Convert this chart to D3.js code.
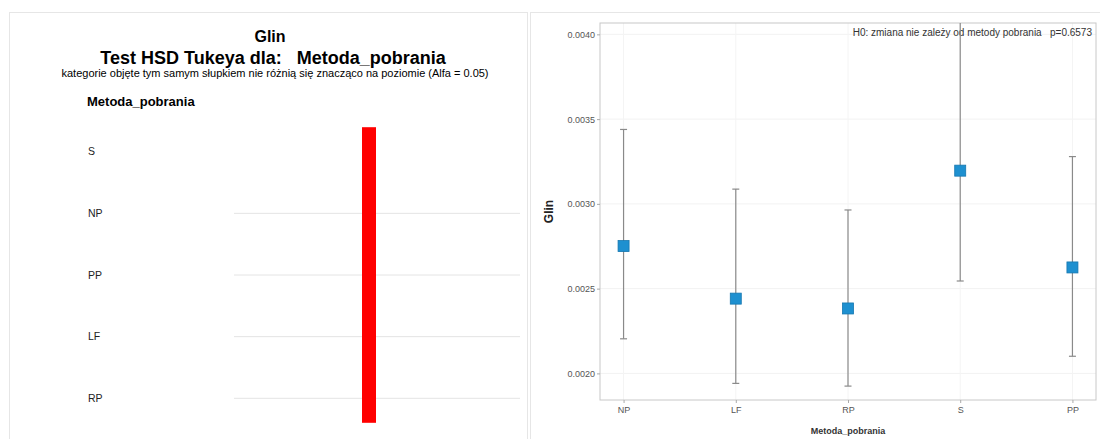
<!DOCTYPE html>
<html><head><meta charset="utf-8">
<script src="https://cdn.jsdelivr.net/npm/d3@7"></script>
<style>
html,body{margin:0;padding:0;background:#fff;}
text{font-family:"Liberation Sans",Arial,sans-serif;}
</style></head>
<body><svg id="c" width="1100" height="439"></svg>
<script>
// ---- data ----
const categories = ["NP","LF","RP","S","PP"];
const means      = [0.002751,0.002441,0.002383,0.003196,0.002625];
const lowerCI    = [0.002204,0.001941,0.001925,0.002545,0.002101];
const upperCI    = [0.003439,0.003087,0.002964,0.004150,0.003279];
const yTicks     = [0.0020,0.0025,0.0030,0.0035,0.0040];
const tukeyRows  = ["S","NP","PP","LF","RP"];
const tukeyGroups = [["S","NP","PP","LF","RP"]];
const pValue = "0.6573";

const svg = d3.select("#c");

// panel borders
svg.append("rect").attr("x",9.5).attr("y",12.5).attr("width",518).attr("height",440)
  .attr("fill","none").attr("stroke","#e6e6e6");
svg.append("rect").attr("x",530.5).attr("y",12.5).attr("width",580).attr("height",440)
  .attr("fill","none").attr("stroke","#e6e6e6");

// ---- left panel: Tukey HSD ----
const L = svg.append("g");
L.append("text").attr("x",270).attr("y",42).attr("text-anchor","middle")
  .attr("font-size",16).attr("font-weight","bold").text("Glin");
L.append("text").attr("x",273).attr("y",64).attr("text-anchor","middle")
  .attr("font-size",18).attr("font-weight","bold").attr("xml:space","preserve")
  .text("Test HSD Tukeya dla:   Metoda_pobrania");
L.append("text").attr("x",275).attr("y",77).attr("text-anchor","middle")
  .attr("font-size",11).text("kategorie objęte tym samym słupkiem nie różnią się znacząco na poziomie (Alfa = 0.05)");
L.append("text").attr("x",87).attr("y",106).attr("font-size",13).attr("font-weight","bold")
  .text("Metoda_pobrania");

const yRow = d3.scalePoint().domain(tukeyRows).range([151.7,398.3]);
tukeyRows.slice(1).forEach(r=>{
  L.append("line").attr("x1",234).attr("x2",520).attr("y1",yRow(r)).attr("y2",yRow(r))
    .attr("stroke","#e4e4e4").attr("stroke-width",1);
});
tukeyRows.forEach(r=>{
  L.append("text").attr("x",88).attr("y",yRow(r)).attr("dy","0.35em")
    .attr("font-size",10.5).attr("fill","#222").text(r);
});
tukeyGroups.forEach((g,i)=>{
  const ys = g.map(r=>yRow(r));
  const y0 = d3.min(ys)-24.5, y1 = d3.max(ys)+24.5;
  L.append("rect").attr("x",362+i*20).attr("y",y0).attr("width",14).attr("height",y1-y0)
    .attr("fill","#ff0000");
});

// ---- right panel: means with CI ----
const fx0=600, fx1=1096, fy0=23, fy1=400;
const x = d3.scalePoint().domain(categories).range([fx0,fx1]).padding(0.21);
const y = d3.scaleLinear().domain([0.001843,0.004067]).range([fy1,fy0]);
const R = svg.append("g");
const clipId="plotclip";
svg.append("defs").append("clipPath").attr("id",clipId)
  .append("rect").attr("x",fx0).attr("y",fy0).attr("width",fx1-fx0).attr("height",fy1-fy0);

// faint grid
yTicks.forEach(t=>{
  R.append("line").attr("x1",fx0).attr("x2",fx1).attr("y1",y(t)).attr("y2",y(t))
    .attr("stroke","#f2f2f2");
});
categories.forEach(c=>{
  R.append("line").attr("x1",x(c)).attr("x2",x(c)).attr("y1",fy0).attr("y2",fy1)
    .attr("stroke","#f4f4f4");
});
R.append("rect").attr("x",fx0).attr("y",fy0).attr("width",fx1-fx0).attr("height",fy1-fy0)
  .attr("fill","none").attr("stroke","#c8c8c8");

// y axis
const yAxis = d3.axisLeft(y).tickValues(yTicks).tickFormat(d3.format(".4f")).tickSize(3).tickPadding(2);
const ya = R.append("g").attr("transform",`translate(${fx0},0)`).call(yAxis);
ya.select(".domain").remove();
ya.selectAll("line").attr("stroke","#aaa");
ya.selectAll("text").attr("font-size",9).attr("fill","#555").attr("font-family","Liberation Sans, Arial");

// x axis
const xAxis = d3.axisBottom(x).tickSize(3).tickPadding(4);
const xa = R.append("g").attr("transform",`translate(0,${fy1})`).call(xAxis);
xa.select(".domain").remove();
xa.selectAll("line").attr("stroke","#aaa");
xa.selectAll("text").attr("font-size",9).attr("fill","#555").attr("font-family","Liberation Sans, Arial");

R.append("text").attr("x",(fx0+fx1)/2).attr("y",434).attr("text-anchor","middle")
  .attr("font-size",9).attr("font-weight","bold").attr("fill","#333").text("Metoda_pobrania");
R.append("text").attr("transform",`translate(553,${(fy0+fy1)/2}) rotate(-90)`)
  .attr("text-anchor","middle").attr("font-size",12).attr("font-weight","bold").attr("fill","#222").text("Glin");

R.append("text").attr("x",1092).attr("y",36).attr("text-anchor","end")
  .attr("font-size",10).attr("fill","#333").attr("xml:space","preserve")
  .text(`H0: zmiana nie zależy od metody pobrania   p=${pValue}`);

// error bars
const eb = R.append("g").attr("clip-path",`url(#${clipId})`);
categories.forEach((c,i)=>{
  eb.append("line").attr("x1",x(c)).attr("x2",x(c)).attr("y1",y(lowerCI[i])).attr("y2",y(upperCI[i]))
    .attr("stroke","#8a8a8a").attr("stroke-width",1.2);
  [lowerCI[i],upperCI[i]].forEach(v=>{
    eb.append("line").attr("x1",x(c)-3.5).attr("x2",x(c)+3.5).attr("y1",y(v)).attr("y2",y(v))
      .attr("stroke","#8a8a8a").attr("stroke-width",1.2);
  });
});
categories.forEach((c,i)=>{
  R.append("rect").attr("x",x(c)-5.5).attr("y",y(means[i])-5.5).attr("width",11).attr("height",11)
    .attr("fill","#1e90d0").attr("stroke","#1577b0").attr("stroke-width",0.8);
});
</script></body></html>
